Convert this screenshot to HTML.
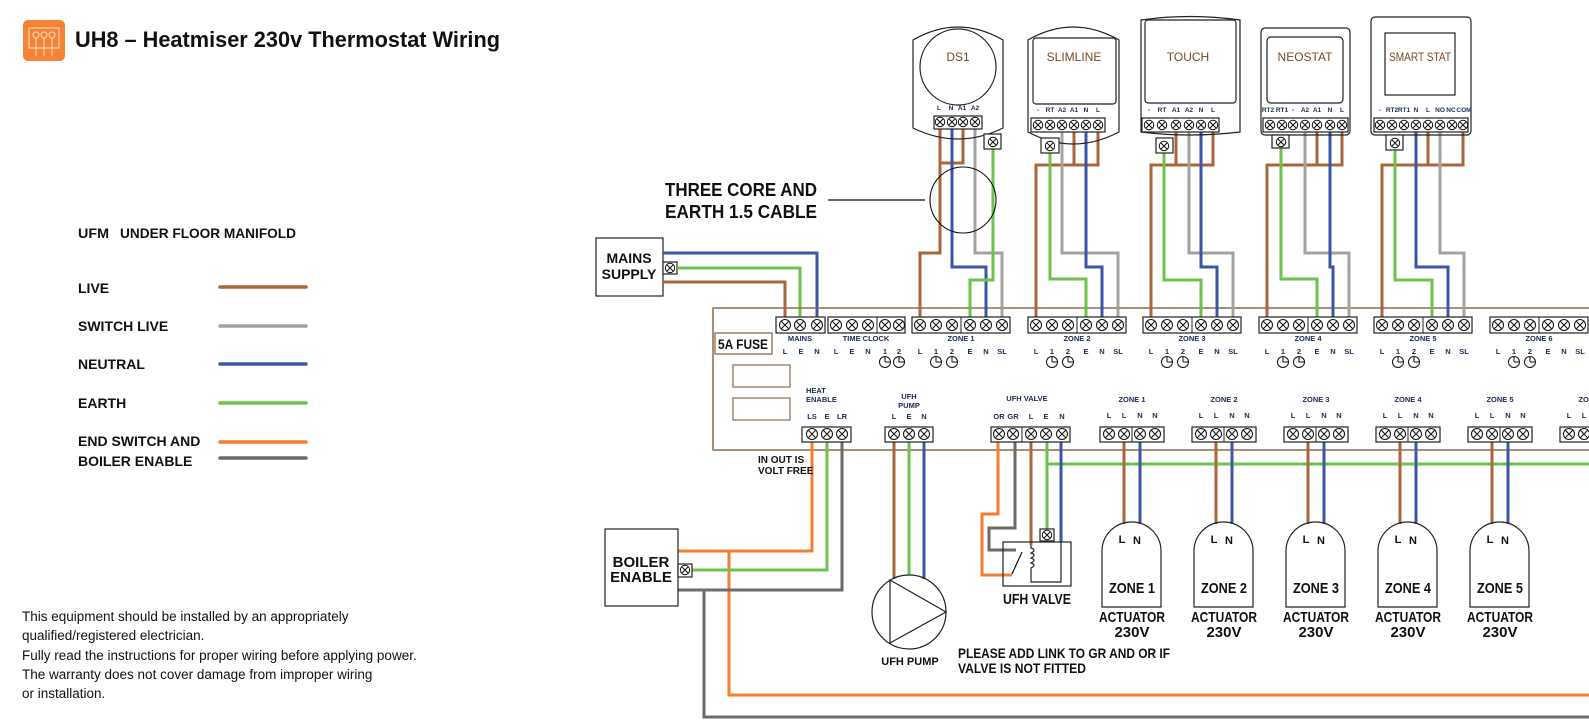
<!DOCTYPE html>
<html><head><meta charset="utf-8"><style>
html,body{margin:0;padding:0;background:#fff}
svg{display:block}
text{font-family:"Liberation Sans",sans-serif}
.b{font-weight:bold}
.lbl{font-size:7.5px;font-weight:bold;fill:#1c2a55}
.blk{fill:#fff;stroke:#222;stroke-width:1.2}
.w{fill:none;stroke-width:3;stroke-linejoin:miter}
.br{stroke:#A8663A}.bl{stroke:#3A56A8}.gr{stroke:#6CC24A}.gy{stroke:#A3A3A3}.or{stroke:#F47F30}.dg{stroke:#6a6a6a}
.ln{fill:none;stroke:#222;stroke-width:1.2}
.th{fill:#7a4a22;font-size:12px;text-anchor:middle}
.tl{font-size:6.5px;font-weight:bold;fill:#1c2a55;text-anchor:middle}
</style></head><body>
<svg width="1589" height="724" viewBox="0 0 1589 724" xmlns="http://www.w3.org/2000/svg">
<defs>
<g id="t"><circle r="5.5" fill="#fff" stroke="#111" stroke-width="1"/><path d="M-3.6,-3.6L3.6,3.6M-3.6,3.6L3.6,-3.6" stroke="#111" stroke-width="1"/></g>
<g id="ts"><circle r="4.7" fill="#fff" stroke="#111" stroke-width="1"/><path d="M-3,-3L3,3M-3,3L3,-3" stroke="#111" stroke-width="1"/></g>
<g id="ck"><circle r="5.5" fill="#fff" stroke="#111" stroke-width="1"/><path d="M0,0V-5.5M0,0H5.5" stroke="#111" stroke-width="1"/></g>
</defs>

<!-- Title -->
<rect x="23" y="20" width="42" height="41" rx="5" fill="#F58535"/>
<rect x="29" y="28" width="30" height="20" fill="none" stroke="#fde0c8" stroke-width="1"/>
<g stroke="#fde0c8" stroke-width="1" fill="none"><circle cx="36" cy="35" r="3"/><circle cx="44" cy="35" r="3"/><circle cx="52" cy="35" r="3"/><path d="M36,38V56M44,38V56M52,38V56"/></g>
<text x="75" y="47" class="b" font-size="22" textLength="425" lengthAdjust="spacingAndGlyphs" fill="#111">UH8 – Heatmiser 230v Thermostat Wiring</text>

<!-- Legend -->
<g class="b" font-size="14" fill="#111">
<text x="78" y="238" textLength="31" lengthAdjust="spacingAndGlyphs">UFM</text>
<text x="120" y="238" textLength="176" lengthAdjust="spacingAndGlyphs">UNDER FLOOR MANIFOLD</text>
<text x="78" y="293">LIVE</text>
<text x="78" y="331">SWITCH LIVE</text>
<text x="78" y="369">NEUTRAL</text>
<text x="78" y="408">EARTH</text>
<text x="78" y="446">END SWITCH AND</text>
<text x="78" y="466">BOILER ENABLE</text>
</g>
<g stroke-width="3.5" stroke-linecap="round">
<line x1="220" y1="287" x2="306" y2="287" stroke="#A8663A"/>
<line x1="220" y1="326" x2="306" y2="326" stroke="#A3A3A3"/>
<line x1="220" y1="364" x2="306" y2="364" stroke="#3A56A8"/>
<line x1="220" y1="403" x2="306" y2="403" stroke="#6CC24A"/>
<line x1="220" y1="442" x2="306" y2="442" stroke="#F47F30"/>
<line x1="220" y1="458" x2="306" y2="458" stroke="#6a6a6a"/>
</g>

<!-- Disclaimer -->
<g font-size="13.5" fill="#111">
<text x="22" y="621">This equipment should be installed by an appropriately</text>
<text x="22" y="640">qualified/registered electrician.</text>
<text x="22" y="660">Fully read the instructions for proper wiring before applying power.</text>
<text x="22" y="679">The warranty does not cover damage from improper wiring</text>
<text x="22" y="698">or installation.</text>
</g>

<!-- Three core -->
<text x="665" y="196" class="b" font-size="18" textLength="152" lengthAdjust="spacingAndGlyphs" fill="#111">THREE CORE AND</text>
<text x="665" y="218" class="b" font-size="18" textLength="152" lengthAdjust="spacingAndGlyphs" fill="#111">EARTH 1.5 CABLE</text>
<line x1="828" y1="200" x2="925" y2="200" stroke="#111" stroke-width="1.2"/>

<!-- Mains supply -->
<rect x="596" y="238" width="67" height="58" class="blk"/>
<text x="629" y="263" class="b" font-size="14" text-anchor="middle" fill="#111">MAINS</text>
<text x="629" y="279" class="b" font-size="14" text-anchor="middle" fill="#111">SUPPLY</text>
<rect x="663" y="262" width="14" height="12" class="blk"/><use href="#ts" x="670" y="268"/>
<path class="w bl" d="M663,253H817V322"/>
<path class="w gr" d="M677,268H800V322"/>
<path class="w br" d="M663,282H785V322"/>

<!-- Board -->
<rect x="713" y="308" width="900" height="142" fill="none" stroke="#8a6a50" stroke-width="1.5"/>
<rect x="715" y="333" width="57" height="21" fill="none" stroke="#8a6a50" stroke-width="1.3"/>
<text x="743" y="349" class="b" font-size="14" text-anchor="middle" textLength="50" lengthAdjust="spacingAndGlyphs" fill="#111">5A FUSE</text>
<rect x="733" y="365" width="57" height="22" fill="none" stroke="#8a6a50" stroke-width="1.2"/>
<rect x="733" y="398" width="57" height="22" fill="none" stroke="#8a6a50" stroke-width="1.2"/>

<!-- Thermostat wires -->
<path class="w br" d="M940,122V253H920V322"/><path class="w br" d="M963,122V163H940"/>
<path class="w bl" d="M952,122V267H986V322"/>
<path class="w gy" d="M975,122V253H1002V322"/>
<path class="w gr" d="M993,142V280H970V322"/>

<path class="w br" d="M1098,125V165H1036V322"/><path class="w br" d="M1074,125V165"/>
<path class="w gr" d="M1050,146V279H1086V322"/>
<path class="w gy" d="M1062,125V253H1118V322"/>
<path class="w bl" d="M1086,125V267H1102V322"/>

<path class="w br" d="M1213,125V165H1151V322"/><path class="w br" d="M1176,125V165"/>
<path class="w gr" d="M1164,146V280H1201V322"/>
<path class="w gy" d="M1189,125V253H1233V322"/>
<path class="w bl" d="M1201,125V267H1217V322"/>

<path class="w br" d="M1342,125V165H1267V322"/><path class="w br" d="M1317,125V165"/>
<path class="w gr" d="M1281,142V279H1317V322"/>
<path class="w gy" d="M1305,125V253H1349V322"/>
<path class="w bl" d="M1330,125V267H1333V322"/>

<path class="w br" d="M1463,125V165H1382V322"/><path class="w br" d="M1428,125V165"/>
<path class="w gr" d="M1395,143V280H1432V322"/>
<path class="w bl" d="M1416,125V267H1448V322"/>
<path class="w gy" d="M1440,125V253H1464V322"/>

<!-- cable circle -->
<ellipse cx="963" cy="200" rx="33" ry="33" fill="none" stroke="#111" stroke-width="1.1"/>

<!-- DS1 -->
<path d="M913,40Q958,14 1003,40L1003,128Q958,150 913,128Z" class="ln" fill="none"/>
<circle cx="958" cy="67" r="38" class="ln"/>
<text x="958" y="61" class="th">DS1</text>
<g class="tl"><text x="939" y="110">L</text><text x="951" y="110">N</text><text x="962" y="110">A1</text><text x="975" y="110">A2</text></g>
<rect x="934" y="116" width="48" height="13" class="blk"/>
<use href="#ts" x="940" y="122"/><use href="#ts" x="952" y="122"/><use href="#ts" x="963" y="122"/><use href="#ts" x="975" y="122"/>
<rect x="984" y="134" width="17" height="15" class="blk"/><use href="#ts" x="993" y="142"/>

<!-- SLIMLINE -->
<path d="M1028,40Q1073,14 1119,40L1119,132Q1073,156 1028,132Z" class="ln"/>
<rect x="1033" y="38" width="83" height="66" rx="3" class="ln"/>
<text x="1074" y="61" class="th">SLIMLINE</text>
<g class="tl"><text x="1038" y="112">-</text><text x="1050" y="112">RT</text><text x="1062" y="112">A2</text><text x="1074" y="112">A1</text><text x="1086" y="112">N</text><text x="1098" y="112">L</text></g>
<rect x="1031" y="118" width="74" height="14" class="blk"/>
<use href="#ts" x="1038" y="125"/><use href="#ts" x="1050" y="125"/><use href="#ts" x="1062" y="125"/><use href="#ts" x="1074" y="125"/><use href="#ts" x="1086" y="125"/><use href="#ts" x="1098" y="125"/>
<rect x="1041" y="138" width="18" height="15" class="blk"/><use href="#ts" x="1050" y="146"/>

<!-- TOUCH -->
<path d="M1141,20Q1190,13 1240,20L1240,132Q1190,138 1141,132Z" class="ln"/>
<rect x="1145" y="20" width="91" height="83" rx="3" class="ln"/>
<text x="1188" y="61" class="th">TOUCH</text>
<g class="tl"><text x="1149" y="112">-</text><text x="1162" y="112">RT</text><text x="1176" y="112">A1</text><text x="1189" y="112">A2</text><text x="1201" y="112">N</text><text x="1213" y="112">L</text></g>
<rect x="1142" y="118" width="77" height="14" class="blk"/>
<use href="#ts" x="1149" y="125"/><use href="#ts" x="1162" y="125"/><use href="#ts" x="1176" y="125"/><use href="#ts" x="1189" y="125"/><use href="#ts" x="1201" y="125"/><use href="#ts" x="1213" y="125"/>
<rect x="1156" y="138" width="17" height="15" class="blk"/><use href="#ts" x="1164" y="146"/>

<!-- NEOSTAT -->
<rect x="1261" y="28" width="89" height="107" rx="4" class="ln"/>
<rect x="1267" y="37" width="76" height="66" rx="4" class="ln"/>
<text x="1305" y="61" class="th">NEOSTAT</text>
<g class="tl"><text x="1268" y="112">RT2</text><text x="1282" y="112">RT1</text><text x="1293" y="112">-</text><text x="1305" y="112">A2</text><text x="1317" y="112">A1</text><text x="1330" y="112">N</text><text x="1342" y="112">L</text></g>
<rect x="1263" y="118" width="85" height="14" class="blk"/>
<use href="#ts" x="1270" y="125"/><use href="#ts" x="1282" y="125"/><use href="#ts" x="1293" y="125"/><use href="#ts" x="1305" y="125"/><use href="#ts" x="1317" y="125"/><use href="#ts" x="1330" y="125"/><use href="#ts" x="1342" y="125"/>
<rect x="1272" y="135" width="17" height="13" class="blk"/><use href="#ts" x="1281" y="142"/>

<!-- SMART STAT -->
<rect x="1371" y="17" width="100" height="118" rx="4" class="ln"/>
<rect x="1385" y="33" width="70" height="62" class="ln"/>
<text x="1420" y="61" class="th" font-size="11" textLength="62" lengthAdjust="spacingAndGlyphs">SMART STAT</text>
<g class="tl"><text x="1380" y="112">-</text><text x="1392" y="112">RT2</text><text x="1404" y="112">RT1</text><text x="1416" y="112">N</text><text x="1428" y="112">L</text><text x="1440" y="112">NO</text><text x="1451" y="112">NC</text><text x="1464" y="112">COM</text></g>
<rect x="1374" y="118" width="94" height="14" class="blk"/>
<use href="#ts" x="1380" y="125"/><use href="#ts" x="1392" y="125"/><use href="#ts" x="1404" y="125"/><use href="#ts" x="1416" y="125"/><use href="#ts" x="1428" y="125"/><use href="#ts" x="1440" y="125"/><use href="#ts" x="1452" y="125"/><use href="#ts" x="1463" y="125"/>
<rect x="1386" y="135" width="17" height="15" class="blk"/><use href="#ts" x="1395" y="143"/>

<!-- Top board row: mains + time clock -->
<rect x="776" y="317" width="49" height="16" class="blk"/>
<use href="#t" x="785" y="325"/><use href="#t" x="800" y="325"/><use href="#t" x="817" y="325"/>
<text x="800" y="341" class="lbl" text-anchor="middle">MAINS</text>
<g class="lbl" text-anchor="middle"><text x="785" y="354">L</text><text x="801" y="354">E</text><text x="817" y="354">N</text></g>
<rect x="828" y="317" width="77" height="16" class="blk"/><line x1="877" y1="317" x2="877" y2="333" stroke="#222"/>
<use href="#t" x="836" y="325"/><use href="#t" x="852" y="325"/><use href="#t" x="868" y="325"/><use href="#t" x="885" y="325"/><use href="#t" x="899" y="325"/>
<text x="866" y="341" class="lbl" text-anchor="middle">TIME CLOCK</text>
<g class="lbl" text-anchor="middle"><text x="836" y="354">L</text><text x="852" y="354">E</text><text x="868" y="354">N</text><text x="885" y="354">1</text><text x="899" y="354">2</text></g>
<use href="#ck" x="885" y="362"/><use href="#ck" x="899" y="362"/>

<!-- Zone top blocks -->
<g transform="translate(912,0)">
<rect x="0" y="317" width="98" height="16" class="blk"/><line x1="49" y1="317" x2="49" y2="333" stroke="#222"/>
<use href="#t" x="8" y="325"/><use href="#t" x="24" y="325"/><use href="#t" x="40" y="325"/><use href="#t" x="58" y="325"/><use href="#t" x="74" y="325"/><use href="#t" x="90" y="325"/>
<text x="49" y="341" class="lbl" text-anchor="middle">ZONE 1</text>
<g class="lbl" text-anchor="middle"><text x="8" y="354">L</text><text x="24" y="354">1</text><text x="40" y="354">2</text><text x="58" y="354">E</text><text x="74" y="354">N</text><text x="90" y="354">SL</text></g>
<use href="#ck" x="24" y="362"/><use href="#ck" x="40" y="362"/></g>
<g transform="translate(1028,0)">
<rect x="0" y="317" width="98" height="16" class="blk"/><line x1="49" y1="317" x2="49" y2="333" stroke="#222"/>
<use href="#t" x="8" y="325"/><use href="#t" x="24" y="325"/><use href="#t" x="40" y="325"/><use href="#t" x="58" y="325"/><use href="#t" x="74" y="325"/><use href="#t" x="90" y="325"/>
<text x="49" y="341" class="lbl" text-anchor="middle">ZONE 2</text>
<g class="lbl" text-anchor="middle"><text x="8" y="354">L</text><text x="24" y="354">1</text><text x="40" y="354">2</text><text x="58" y="354">E</text><text x="74" y="354">N</text><text x="90" y="354">SL</text></g>
<use href="#ck" x="24" y="362"/><use href="#ck" x="40" y="362"/></g>
<g transform="translate(1143,0)">
<rect x="0" y="317" width="98" height="16" class="blk"/><line x1="49" y1="317" x2="49" y2="333" stroke="#222"/>
<use href="#t" x="8" y="325"/><use href="#t" x="24" y="325"/><use href="#t" x="40" y="325"/><use href="#t" x="58" y="325"/><use href="#t" x="74" y="325"/><use href="#t" x="90" y="325"/>
<text x="49" y="341" class="lbl" text-anchor="middle">ZONE 3</text>
<g class="lbl" text-anchor="middle"><text x="8" y="354">L</text><text x="24" y="354">1</text><text x="40" y="354">2</text><text x="58" y="354">E</text><text x="74" y="354">N</text><text x="90" y="354">SL</text></g>
<use href="#ck" x="24" y="362"/><use href="#ck" x="40" y="362"/></g>
<g transform="translate(1259,0)">
<rect x="0" y="317" width="98" height="16" class="blk"/><line x1="49" y1="317" x2="49" y2="333" stroke="#222"/>
<use href="#t" x="8" y="325"/><use href="#t" x="24" y="325"/><use href="#t" x="40" y="325"/><use href="#t" x="58" y="325"/><use href="#t" x="74" y="325"/><use href="#t" x="90" y="325"/>
<text x="49" y="341" class="lbl" text-anchor="middle">ZONE 4</text>
<g class="lbl" text-anchor="middle"><text x="8" y="354">L</text><text x="24" y="354">1</text><text x="40" y="354">2</text><text x="58" y="354">E</text><text x="74" y="354">N</text><text x="90" y="354">SL</text></g>
<use href="#ck" x="24" y="362"/><use href="#ck" x="40" y="362"/></g>
<g transform="translate(1374,0)">
<rect x="0" y="317" width="98" height="16" class="blk"/><line x1="49" y1="317" x2="49" y2="333" stroke="#222"/>
<use href="#t" x="8" y="325"/><use href="#t" x="24" y="325"/><use href="#t" x="40" y="325"/><use href="#t" x="58" y="325"/><use href="#t" x="74" y="325"/><use href="#t" x="90" y="325"/>
<text x="49" y="341" class="lbl" text-anchor="middle">ZONE 5</text>
<g class="lbl" text-anchor="middle"><text x="8" y="354">L</text><text x="24" y="354">1</text><text x="40" y="354">2</text><text x="58" y="354">E</text><text x="74" y="354">N</text><text x="90" y="354">SL</text></g>
<use href="#ck" x="24" y="362"/><use href="#ck" x="40" y="362"/></g>
<g transform="translate(1490,0)">
<rect x="0" y="317" width="98" height="16" class="blk"/><line x1="49" y1="317" x2="49" y2="333" stroke="#222"/>
<use href="#t" x="8" y="325"/><use href="#t" x="24" y="325"/><use href="#t" x="40" y="325"/><use href="#t" x="58" y="325"/><use href="#t" x="74" y="325"/><use href="#t" x="90" y="325"/>
<text x="49" y="341" class="lbl" text-anchor="middle">ZONE 6</text>
<g class="lbl" text-anchor="middle"><text x="8" y="354">L</text><text x="24" y="354">1</text><text x="40" y="354">2</text><text x="58" y="354">E</text><text x="74" y="354">N</text><text x="90" y="354">SL</text></g>
<use href="#ck" x="24" y="362"/><use href="#ck" x="40" y="362"/></g>

<!-- Lower wires -->
<path class="w gr" d="M1047,434V464H1600"/>
<path class="w or" d="M812,434V551H678"/>
<path class="w or" d="M729,551V695H1600"/>
<path class="w gr" d="M827,434V570H692"/>
<path class="w dg" d="M842,434V590H678"/>
<path class="w dg" d="M704,590V717H1600"/>
<path class="w br" d="M894,434V579"/>
<path class="w gr" d="M909,434V575"/>
<path class="w bl" d="M924,434V579"/>
<path class="w or" d="M998,434V514H982V575H1012"/>
<path class="w dg" d="M1015,434V528H989V550H1016"/>
<path class="w br" d="M1031,434V545"/>
<path class="w bl" d="M1061,434V542"/>
<path class="w gr" d="M1047,434V530"/>

<!-- Boiler -->
<rect x="605" y="529" width="73" height="77" class="blk"/>
<text x="641" y="567" class="b" font-size="15" text-anchor="middle" fill="#111">BOILER</text>
<text x="641" y="582" class="b" font-size="15" text-anchor="middle" fill="#111">ENABLE</text>
<rect x="678" y="564" width="14" height="13" class="blk"/><use href="#ts" x="685" y="570"/>

<!-- Pump -->
<circle cx="909" cy="612" r="37" class="ln"/>
<path d="M890,580L946,612L890,643Z" class="ln"/>
<text x="910" y="665" class="b" font-size="11" text-anchor="middle" fill="#111">UFH PUMP</text>

<!-- Valve -->
<rect x="1003" y="542" width="68" height="44" class="ln"/>
<line x1="1012" y1="574" x2="1022" y2="552" stroke="#111" stroke-width="1.2"/>
<path d="M1031,545V548q6,2 0,5q6,2 0,5q6,2 0,5q6,2 0,5v14H1061V542" class="ln"/>
<rect x="1040" y="529" width="14" height="12" class="blk"/><use href="#ts" x="1047" y="535"/>
<text x="1037" y="604" class="b" font-size="15" text-anchor="middle" textLength="68" lengthAdjust="spacingAndGlyphs" fill="#111">UFH VALVE</text>
<text x="958" y="658" class="b" font-size="14" textLength="212" lengthAdjust="spacingAndGlyphs" fill="#111">PLEASE ADD LINK TO GR AND OR IF</text>
<text x="958" y="673" class="b" font-size="14" textLength="128" lengthAdjust="spacingAndGlyphs" fill="#111">VALVE IS NOT FITTED</text>
<text x="758" y="463" class="b" font-size="10" fill="#111">IN OUT IS</text>
<text x="758" y="474" class="b" font-size="10" fill="#111">VOLT FREE</text>

<!-- Lower board blocks -->
<text x="806" y="393" class="lbl">HEAT</text><text x="806" y="402" class="lbl">ENABLE</text>
<g class="lbl" text-anchor="middle"><text x="812" y="419">LS</text><text x="827" y="419">E</text><text x="842" y="419">LR</text></g>
<rect x="802" y="427" width="49" height="15" class="blk"/>
<use href="#t" x="812" y="434"/><use href="#t" x="827" y="434"/><use href="#t" x="842" y="434"/>

<text x="909" y="399" class="lbl" text-anchor="middle">UFH</text><text x="909" y="408" class="lbl" text-anchor="middle">PUMP</text>
<g class="lbl" text-anchor="middle"><text x="894" y="419">L</text><text x="909" y="419">E</text><text x="924" y="419">N</text></g>
<rect x="885" y="427" width="48" height="15" class="blk"/>
<use href="#t" x="894" y="434"/><use href="#t" x="909" y="434"/><use href="#t" x="924" y="434"/>

<text x="1027" y="401" class="lbl" text-anchor="middle">UFH VALVE</text>
<g class="lbl" text-anchor="middle"><text x="999" y="419">OR</text><text x="1013" y="419">GR</text><text x="1031" y="419">L</text><text x="1046" y="419">E</text><text x="1062" y="419">N</text></g>
<rect x="991" y="427" width="79" height="15" class="blk"/><line x1="1022" y1="427" x2="1022" y2="442" stroke="#222"/>
<use href="#t" x="999" y="434"/><use href="#t" x="1013" y="434"/><use href="#t" x="1031" y="434"/><use href="#t" x="1046" y="434"/><use href="#t" x="1062" y="434"/>

<!-- Actuator zones -->
<g transform="translate(1100,0)">
<path class="w br" d="M24,434V524"/><path class="w bl" d="M40,434V524"/>
<text x="32" y="402" class="lbl" text-anchor="middle">ZONE 1</text>
<g class="lbl" text-anchor="middle"><text x="9" y="418">L</text><text x="24" y="418">L</text><text x="40" y="418">N</text><text x="55" y="418">N</text></g>
<rect x="0" y="427" width="64" height="15" class="blk"/><line x1="32" y1="427" x2="32" y2="442" stroke="#222"/>
<use href="#t" x="9" y="434"/><use href="#t" x="24" y="434"/><use href="#t" x="40" y="434"/><use href="#t" x="55" y="434"/>
<path d="M2,607V551A29.5,29 0 0 1 61,551V607Z" class="ln"/>
<text x="22" y="543" class="b" font-size="11" text-anchor="middle" fill="#111">L</text><text x="37" y="544" class="b" font-size="11" text-anchor="middle" fill="#111">N</text>
<text x="32" y="593" class="b" font-size="15" text-anchor="middle" textLength="46" lengthAdjust="spacingAndGlyphs" fill="#111">ZONE 1</text>
<text x="32" y="622" class="b" font-size="15" text-anchor="middle" textLength="66" lengthAdjust="spacingAndGlyphs" fill="#111">ACTUATOR</text>
<text x="32" y="637" class="b" font-size="15" text-anchor="middle" fill="#111">230V</text></g>
<g transform="translate(1192,0)">
<path class="w br" d="M24,434V524"/><path class="w bl" d="M40,434V524"/>
<text x="32" y="402" class="lbl" text-anchor="middle">ZONE 2</text>
<g class="lbl" text-anchor="middle"><text x="9" y="418">L</text><text x="24" y="418">L</text><text x="40" y="418">N</text><text x="55" y="418">N</text></g>
<rect x="0" y="427" width="64" height="15" class="blk"/><line x1="32" y1="427" x2="32" y2="442" stroke="#222"/>
<use href="#t" x="9" y="434"/><use href="#t" x="24" y="434"/><use href="#t" x="40" y="434"/><use href="#t" x="55" y="434"/>
<path d="M2,607V551A29.5,29 0 0 1 61,551V607Z" class="ln"/>
<text x="22" y="543" class="b" font-size="11" text-anchor="middle" fill="#111">L</text><text x="37" y="544" class="b" font-size="11" text-anchor="middle" fill="#111">N</text>
<text x="32" y="593" class="b" font-size="15" text-anchor="middle" textLength="46" lengthAdjust="spacingAndGlyphs" fill="#111">ZONE 2</text>
<text x="32" y="622" class="b" font-size="15" text-anchor="middle" textLength="66" lengthAdjust="spacingAndGlyphs" fill="#111">ACTUATOR</text>
<text x="32" y="637" class="b" font-size="15" text-anchor="middle" fill="#111">230V</text></g>
<g transform="translate(1284,0)">
<path class="w br" d="M24,434V524"/><path class="w bl" d="M40,434V524"/>
<text x="32" y="402" class="lbl" text-anchor="middle">ZONE 3</text>
<g class="lbl" text-anchor="middle"><text x="9" y="418">L</text><text x="24" y="418">L</text><text x="40" y="418">N</text><text x="55" y="418">N</text></g>
<rect x="0" y="427" width="64" height="15" class="blk"/><line x1="32" y1="427" x2="32" y2="442" stroke="#222"/>
<use href="#t" x="9" y="434"/><use href="#t" x="24" y="434"/><use href="#t" x="40" y="434"/><use href="#t" x="55" y="434"/>
<path d="M2,607V551A29.5,29 0 0 1 61,551V607Z" class="ln"/>
<text x="22" y="543" class="b" font-size="11" text-anchor="middle" fill="#111">L</text><text x="37" y="544" class="b" font-size="11" text-anchor="middle" fill="#111">N</text>
<text x="32" y="593" class="b" font-size="15" text-anchor="middle" textLength="46" lengthAdjust="spacingAndGlyphs" fill="#111">ZONE 3</text>
<text x="32" y="622" class="b" font-size="15" text-anchor="middle" textLength="66" lengthAdjust="spacingAndGlyphs" fill="#111">ACTUATOR</text>
<text x="32" y="637" class="b" font-size="15" text-anchor="middle" fill="#111">230V</text></g>
<g transform="translate(1376,0)">
<path class="w br" d="M24,434V524"/><path class="w bl" d="M40,434V524"/>
<text x="32" y="402" class="lbl" text-anchor="middle">ZONE 4</text>
<g class="lbl" text-anchor="middle"><text x="9" y="418">L</text><text x="24" y="418">L</text><text x="40" y="418">N</text><text x="55" y="418">N</text></g>
<rect x="0" y="427" width="64" height="15" class="blk"/><line x1="32" y1="427" x2="32" y2="442" stroke="#222"/>
<use href="#t" x="9" y="434"/><use href="#t" x="24" y="434"/><use href="#t" x="40" y="434"/><use href="#t" x="55" y="434"/>
<path d="M2,607V551A29.5,29 0 0 1 61,551V607Z" class="ln"/>
<text x="22" y="543" class="b" font-size="11" text-anchor="middle" fill="#111">L</text><text x="37" y="544" class="b" font-size="11" text-anchor="middle" fill="#111">N</text>
<text x="32" y="593" class="b" font-size="15" text-anchor="middle" textLength="46" lengthAdjust="spacingAndGlyphs" fill="#111">ZONE 4</text>
<text x="32" y="622" class="b" font-size="15" text-anchor="middle" textLength="66" lengthAdjust="spacingAndGlyphs" fill="#111">ACTUATOR</text>
<text x="32" y="637" class="b" font-size="15" text-anchor="middle" fill="#111">230V</text></g>
<g transform="translate(1468,0)">
<path class="w br" d="M24,434V524"/><path class="w bl" d="M40,434V524"/>
<text x="32" y="402" class="lbl" text-anchor="middle">ZONE 5</text>
<g class="lbl" text-anchor="middle"><text x="9" y="418">L</text><text x="24" y="418">L</text><text x="40" y="418">N</text><text x="55" y="418">N</text></g>
<rect x="0" y="427" width="64" height="15" class="blk"/><line x1="32" y1="427" x2="32" y2="442" stroke="#222"/>
<use href="#t" x="9" y="434"/><use href="#t" x="24" y="434"/><use href="#t" x="40" y="434"/><use href="#t" x="55" y="434"/>
<path d="M2,607V551A29.5,29 0 0 1 61,551V607Z" class="ln"/>
<text x="22" y="543" class="b" font-size="11" text-anchor="middle" fill="#111">L</text><text x="37" y="544" class="b" font-size="11" text-anchor="middle" fill="#111">N</text>
<text x="32" y="593" class="b" font-size="15" text-anchor="middle" textLength="46" lengthAdjust="spacingAndGlyphs" fill="#111">ZONE 5</text>
<text x="32" y="622" class="b" font-size="15" text-anchor="middle" textLength="66" lengthAdjust="spacingAndGlyphs" fill="#111">ACTUATOR</text>
<text x="32" y="637" class="b" font-size="15" text-anchor="middle" fill="#111">230V</text></g>
<g transform="translate(1560,0)">
<text x="32" y="402" class="lbl" text-anchor="middle">ZONE 6</text>
<g class="lbl" text-anchor="middle"><text x="9" y="418">L</text><text x="24" y="418">L</text><text x="40" y="418">N</text><text x="55" y="418">N</text></g>
<rect x="0" y="427" width="64" height="15" class="blk"/><line x1="32" y1="427" x2="32" y2="442" stroke="#222"/>
<use href="#t" x="9" y="434"/><use href="#t" x="24" y="434"/><use href="#t" x="40" y="434"/><use href="#t" x="55" y="434"/></g>
</svg>
</body></html>
